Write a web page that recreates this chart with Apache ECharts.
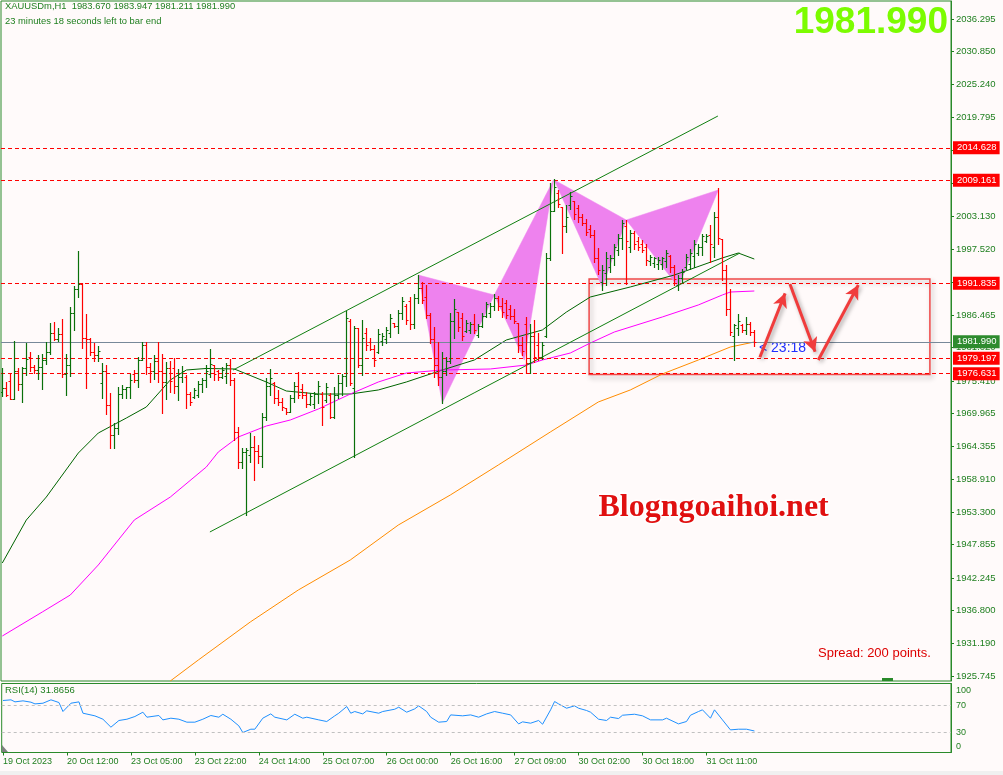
<!DOCTYPE html>
<html><head><meta charset="utf-8">
<script src="https://cdn.jsdelivr.net/npm/echarts/dist/echarts.min.js"></script>
<style>html,body{margin:0;padding:0;background:#fffafa;overflow:hidden}#c{width:1003px;height:775px}</style>
</head><body><div id="c"></div>
<script>
// ---------- DATA ----------
const xTickLabels = ['19 Oct 2023','20 Oct 12:00','23 Oct 05:00','23 Oct 22:00','24 Oct 14:00','25 Oct 07:00','26 Oct 00:00','26 Oct 16:00','27 Oct 09:00','30 Oct 02:00','30 Oct 18:00','31 Oct 11:00'];
const yTickLabels = [2036.295,2030.850,2025.240,2019.795,2014.185,2008.740,2003.130,1997.520,1992.075,1986.465,1981.020,1975.410,1969.965,1964.355,1958.910,1953.300,1947.855,1942.245,1936.800,1931.190,1925.745];
const rsiTickLabels = ['0','30','70','100'];

const open = [1973.5,1974.2,1975.4,1972.4,1977.1,1974.9,1977.6,1979.5,1977.7,1977.2,1977.7,1979.0,1980.3,1983.5,1982.5,1983.3,1976.6,1978.1,1986.9,1990.9,1991.7,1982.6,1982.4,1980.2,1979.8,1975.0,1977.0,1971.4,1966.3,1967.4,1973.2,1974.0,1974.3,1976.6,1975.6,1979.0,1981.4,1977.8,1977.0,1978.8,1977.0,1975.3,1977.6,1977.5,1974.6,1976.0,1976.0,1973.2,1972.7,1973.0,1974.9,1975.5,1976.6,1978.0,1977.0,1976.0,1976.2,1978.0,1975.6,1966.8,1961.8,1963.4,1963.0,1964.3,1963.6,1962.8,1969.3,1974.6,1975.0,1972.5,1971.8,1970.8,1970.2,1972.5,1974.5,1974.0,1973.0,1971.6,1971.6,1973.2,1973.2,1972.2,1973.0,1969.3,1973.0,1975.1,1976.3,1985.5,1974.2,1984.3,1978.1,1983.5,1981.9,1980.8,1980.3,1982.2,1982.5,1983.5,1985.2,1984.6,1986.8,1988.0,1988.9,1985.0,1989.4,1991.0,1989.5,1986.5,1982.5,1978.0,1976.0,1977.0,1978.8,1985.5,1987.0,1986.0,1983.8,1984.0,1985.0,1983.2,1984.6,1986.4,1986.8,1988.0,1989.3,1988.0,1988.5,1987.5,1986.3,1985.1,1981.5,1985.0,1978.5,1983.0,1981.5,1979.5,1983.0,1996.0,2004.0,2007.0,2004.7,2001.5,2005.0,2005.7,2004.5,2003.0,2002.0,2001.0,2000.0,1996.0,1992.0,1993.5,1994.5,1996.0,1997.5,1999.5,2001.5,1998.0,2000.3,1999.0,1998.5,1998.0,1995.5,1995.3,1995.0,1995.0,1995.5,1996.5,1994.5,1991.5,1992.8,1994.5,1995.0,1996.5,1997.0,1998.0,1999.0,2000.0,1998.0,2003.0,1999.3,1994.0,1987.5,1983.0,1984.3,1984.8,1984.0,1985.0,1983.67];
const high = [1977.5,1975.3,1976.5,1982.1,1977.5,1977.8,1981.8,1980.3,1978.0,1979.8,1979.9,1982.0,1985.2,1985.4,1984.3,1985.8,1980.0,1987.8,1991.3,1997.2,1991.8,1986.7,1982.6,1981.8,1981.3,1978.4,1978.1,1973.3,1968.3,1974.3,1974.7,1974.4,1976.5,1977.3,1979.5,1982.0,1982.0,1978.4,1979.8,1981.9,1979.9,1978.6,1978.8,1979.2,1977.4,1977.9,1976.4,1973.5,1974.2,1975.4,1975.9,1978.1,1980.8,1978.1,1977.2,1977.7,1978.4,1979.1,1975.9,1967.7,1964.1,1964.1,1966.6,1966.1,1964.6,1970.0,1975.9,1977.4,1975.2,1973.9,1972.5,1970.8,1973.0,1975.2,1976.9,1974.9,1973.5,1973.4,1973.5,1975.4,1973.5,1975.1,1973.4,1974.4,1976.4,1976.6,1987.2,1985.8,1984.6,1984.3,1985.7,1984.3,1982.6,1981.4,1984.1,1983.5,1984.5,1986.7,1985.2,1987.3,1989.5,1988.4,1989.5,1990.0,1993.3,1992.0,1991.5,1986.8,1984.5,1982.0,1980.3,1979.4,1986.8,1989.2,1987.0,1986.8,1985.7,1985.3,1986.7,1985.0,1986.8,1988.7,1988.5,1990.0,1989.7,1989.4,1989.0,1988.2,1987.5,1985.1,1982.8,1986.2,1985.0,1985.7,1983.5,1982.0,1996.9,2008.7,2009.4,2007.5,2004.7,2005.0,2007.2,2005.7,2005.0,2003.5,2002.7,2001.6,2000.8,1997.8,1994.9,1997.1,1996.6,1998.4,2000.1,2002.5,2002.5,2000.8,2000.6,1999.6,1999.1,1998.4,1996.6,1996.3,1996.3,1996.3,1997.4,1996.6,1994.9,1993.2,1994.2,1996.8,1997.6,1999.1,1998.4,2000.1,2000.1,2001.6,2003.8,2007.9,1999.3,1994.9,1990.9,1985.0,1986.7,1985.0,1986.2,1985.3,1983.947];
const low = [1972.9,1972.8,1972.3,1972.3,1973.9,1971.8,1976.4,1977.0,1976.7,1975.7,1974.0,1978.2,1980.0,1982.3,1982.1,1976.1,1973.0,1976.2,1984.0,1989.6,1980.9,1974.2,1979.8,1978.8,1978.8,1972.6,1969.8,1964.1,1964.2,1966.4,1972.5,1972.6,1972.6,1975.3,1974.3,1978.9,1976.5,1975.2,1975.8,1975.3,1970.0,1972.4,1973.6,1973.4,1972.2,1975.3,1970.9,1971.3,1972.5,1972.7,1973.5,1974.4,1976.1,1975.6,1975.6,1975.9,1975.1,1974.7,1965.5,1960.8,1960.8,1952.85,1961.8,1958.7,1961.6,1960.9,1968.8,1973.0,1971.7,1971.3,1970.5,1969.8,1970.2,1971.8,1972.5,1972.5,1971.0,1971.3,1970.8,1971.7,1968.0,1971.9,1969.2,1969.2,1972.5,1973.0,1974.6,1974.7,1962.6,1977.7,1976.4,1980.6,1980.6,1977.9,1980.1,1981.5,1981.8,1982.8,1984.5,1983.5,1985.8,1985.0,1984.1,1984.3,1988.5,1988.5,1986.0,1981.8,1976.1,1974.7,1971.7,1976.4,1978.5,1982.6,1983.8,1982.3,1983.6,1983.5,1983.5,1982.8,1984.5,1986.2,1986.2,1987.3,1987.3,1986.2,1986.0,1985.8,1985.1,1980.3,1979.8,1976.7,1976.7,1978.6,1978.9,1979.1,1982.8,1995.8,2004.0,2004.7,1996.9,2000.5,2004.3,2002.6,2002.1,2001.6,2000.0,1999.6,1995.4,1993.4,1990.7,1991.5,1993.7,1994.9,1996.6,1997.6,1991.7,1997.1,1997.6,1997.4,1997.1,1994.9,1994.9,1994.6,1994.2,1994.2,1994.6,1993.7,1991.5,1990.7,1992.0,1994.2,1994.2,1994.6,1996.6,1996.6,1998.8,1995.4,1996.3,1998.4,1992.4,1986.5,1983.1,1978.9,1983.1,1983.6,1983.3,1983.1,1981.211];
const close = [1974.2,1973.0,1972.4,1977.1,1974.9,1977.6,1979.1,1977.7,1977.2,1977.7,1979.0,1980.3,1983.5,1982.5,1983.3,1976.6,1978.1,1986.9,1990.9,1991.7,1982.6,1982.4,1980.2,1979.8,1980.4,1977.0,1971.4,1966.3,1967.4,1973.2,1974.0,1974.3,1975.6,1975.6,1979.0,1981.4,1977.8,1977.0,1978.8,1977.0,1975.3,1977.6,1975.4,1974.6,1976.0,1977.0,1973.2,1971.8,1973.9,1974.9,1975.5,1977.0,1978.2,1976.6,1976.0,1977.3,1978.0,1975.6,1966.8,1961.8,1963.4,1963.7,1964.3,1963.6,1962.8,1969.3,1974.6,1975.9,1972.5,1971.8,1971.0,1970.2,1972.5,1974.5,1973.0,1973.0,1971.6,1972.9,1973.2,1974.6,1971.0,1974.4,1969.3,1973.0,1975.1,1976.3,1986.0,1975.0,1984.3,1978.1,1982.6,1981.4,1980.8,1978.9,1983.3,1983.0,1984.0,1986.0,1984.6,1986.8,1988.9,1985.6,1985.0,1989.4,1991.0,1989.0,1986.5,1982.5,1978.0,1976.0,1977.0,1978.8,1985.5,1987.5,1984.5,1983.0,1985.2,1985.0,1984.0,1984.6,1986.4,1988.3,1988.0,1989.3,1988.0,1987.0,1986.5,1986.3,1985.5,1981.5,1980.5,1978.5,1983.0,1979.5,1979.5,1981.5,1996.0,2004.0,2008.0,2005.2,2001.5,2003.0,2006.5,2003.5,2003.0,2002.0,2000.5,2000.0,1996.0,1994.0,1994.0,1996.0,1996.0,1998.0,1999.5,2002.0,1999.0,2000.3,1998.5,1998.0,1997.5,1995.8,1996.3,1996.0,1995.8,1996.0,1997.0,1994.5,1992.5,1992.8,1993.8,1996.3,1997.0,1998.5,1998.0,1999.8,1999.8,1998.5,2003.0,1999.5,1994.0,1987.5,1983.6,1984.8,1985.5,1984.0,1985.0,1983.7,1981.99];

// moving averages: [bar, price]
const maGreen = [[0,1944.77],[6,1952.0],[11,1955.87],[19,1963.27],[24,1966.64],[31,1969.16],[36,1971.02],[42,1975.56],[46,1977.24],[51,1977.5],[58,1977.41],[66,1975.22],[71,1973.71],[79,1973.2],[87,1973.2],[94,1973.88],[101,1975.22],[110,1977.24],[118,1978.92],[126,1982.29],[135,1983.97],[141,1986.98],[147,1989.52],[157,1991.21],[168,1993.22],[180,1996.09],[184,1996.92],[188,1995.91]];
const maMagenta = [[0,1932.49],[10,1936.53],[17,1939.39],[24,1944.44],[33,1952.01],[42,1955.87],[51,1960.92],[54,1963.45],[59,1965.97],[66,1967.82],[72,1968.83],[79,1970.68],[87,1973.2],[94,1975.22],[101,1976.73],[110,1977.24],[122,1977.41],[131,1978.08],[135,1978.92],[142,1980.1],[147,1981.78],[153,1983.63],[165,1986.16],[174,1988.18],[180,1989.86],[182,1990.36],[188,1990.53]];
const maOrange = [[42,1924.92],[49,1928.45],[62,1934.85],[74,1940.23],[87,1945.28],[99,1951.16],[112,1956.21],[124,1961.26],[137,1966.81],[149,1971.86],[157,1973.88],[165,1976.57],[174,1978.92],[182,1981.11],[188,1981.95]];
const rsi = [[0,77.0],[2,78.0],[3,75.0],[5,76.5],[7,74.5],[8,72.0],[10,73.0],[12,78.0],[14,74.0],[15,60.7],[17,73.0],[19,75.0],[20,58.2],[23,54.3],[25,49.3],[27,37.5],[29,47.4],[31,49.3],[33,53.3],[35,59.7],[36,52.3],[39,54.8],[40,48.3],[42,50.8],[44,49.3],[46,44.9],[48,44.9],[50,49.3],[52,54.8],[54,52.3],[55,56.7],[57,49.3],[59,39.5],[60,29.6],[62,34.5],[63,34.5],[65,50.8],[67,57.2],[68,52.3],[71,48.3],[73,56.7],[75,50.8],[76,52.3],[79,48.3],[81,45.9],[83,54.3],[84,58.2],[86,68.1],[87,58.2],[88,60.7],[90,57.2],[91,61.7],[94,58.2],[95,60.7],[98,64.1],[99,67.1],[101,59.7],[103,64.6],[104,69.1],[106,60.7],[107,52.3],[109,44.9],[111,45.9],[112,55.7],[115,54.3],[117,55.7],[119,52.3],[121,57.2],[123,60.7],[125,58.2],[127,55.7],[129,42.4],[130,45.4],[132,43.4],[134,47.4],[135,41.9],[137,63.2],[138,75.5],[139,72.0],[141,65.6],[143,69.1],[144,65.6],[146,62.2],[147,59.7],[149,49.3],[151,47.4],[152,52.3],[154,50.3],[155,55.2],[158,56.7],[160,54.3],[162,48.3],[165,48.3],[166,50.8],[169,42.4],[171,45.9],[172,55.2],[174,60.7],[175,63.2],[177,50.8],[178,63.2],[180,48.3],[182,33.5],[184,34.5],[186,34.5],[188,31.8656]];

const levels = [2014.628, 2009.161, 1991.835, 1979.197, 1976.631];
const bidPrice = 1981.990;
const channelUpper = [[57.7,1977.24],[178.9,2019.97]];
const channelLower = [[51.9,1949.99],[184.4,1996.92]];
const longTrend = [[-0.33,1936.69],[222.7,1924.92]];
const patternTriangles = [
  [[104,1993.22],[110,1971.69],[123,1989.86]],
  [[123,1989.86],[130.5,1978.9],[137.8,2009.21]],
  [[138,2009.21],[150,1991.21],[156,2002.48]],
  [[156,2002.48],[169,1991.21],[179,2007.53]]
];
const zoneBox = [[146.7,1992.55],[231.9,1976.5]];
const arrows = [
  [[189.4,1979.38],[195.7,1990.14]],
  [[196.9,1991.71],[203.2,1980.32]],
  [[204,1978.92],[214,1991.54]]
];

// ---------- CHART ----------
const FG = '#1f7f1f';
const FONT = "'Liberation Sans', Arial, sans-serif";
const chart = echarts.init(document.getElementById('c'), null, {renderer:'canvas'});
const bars = high.map((h,i)=>[i, open[i], h, low[i], close[i]]);
const xMin = -0.325, xMax = 237.175;
const xTickVals = xTickLabels.map((_,k)=>k*16);
const rsiTickPos = [8.7, 30, 70, 91.2];

function ohlcItem(params, api){
  const i = api.value(0), o = api.value(1), h = api.value(2), l = api.value(3), c = api.value(4);
  const pH = api.coord([i,h]), pL = api.coord([i,l]), pO = api.coord([i,o]), pC = api.coord([i,c]);
  const x = Math.round(pH[0]) + 0.5;
  const col = c >= o ? '#0a700a' : '#ff0000';
  const yo = Math.round(pO[1]) + 0.5, yc = Math.round(pC[1]) + 0.5;
  return {type:'group', children:[
    {type:'line', shape:{x1:x, y1:Math.round(pH[1]), x2:x, y2:Math.round(pL[1])+1}, style:{stroke:col, lineWidth:1.2}},
    {type:'line', shape:{x1:x-2, y1:yo, x2:x, y2:yo}, style:{stroke:col, lineWidth:1}},
    {type:'line', shape:{x1:x, y1:yc, x2:x+2, y2:yc}, style:{stroke:col, lineWidth:1}}
  ]};
}
function triItem(params, api){
  const pts = [0,1,2].map(k=>api.coord([api.value(2*k), api.value(2*k+1)]));
  return {type:'polygon', shape:{points:pts}, style:{fill:'#ee82ee', stroke:'#ee82ee', lineWidth:0.5}};
}

const levelLines = levels.map(v=>({
  yAxis:v,
  lineStyle:{color:'#ff0000', type:[4,3], width:1},
  label:{show:true, position:'end', distance:2, formatter:()=>v.toFixed(3), backgroundColor:'#ff0000', color:'#ffffff', fontSize:9.5, fontFamily:FONT, padding:[2,3,1,4]}
}));
levelLines.push({
  yAxis:bidPrice,
  lineStyle:{color:'#778899', type:'solid', width:1},
  label:{show:true, position:'end', distance:2, formatter:()=>bidPrice.toFixed(3), backgroundColor:'#2e8b2e', color:'#ffffff', fontSize:9.5, fontFamily:FONT, padding:[2,3,1,4]}
});
const seg = (a, b, style)=>[{coord:a, lineStyle:style}, {coord:b}];
const greenLine = {color:'#108010', width:1, type:'solid'};

const option = {
  animation:false,
  backgroundColor:'#fffafa',
  grid:[
    {left:1, top:1, width:950, height:680, show:true, borderColor:'#2a8a2a', borderWidth:1, backgroundColor:'transparent'},
    {left:1, top:683.5, width:950, height:69, show:true, borderColor:'#2a8a2a', borderWidth:1, backgroundColor:'transparent'}
  ],
  xAxis:[
    {type:'value', gridIndex:0, min:xMin, max:xMax, axisLine:{show:false, onZero:false}, axisTick:{show:false}, axisLabel:{show:false}, splitLine:{show:false}},
    {type:'value', gridIndex:1, min:xMin, max:xMax, axisLine:{show:false, onZero:false}, splitLine:{show:false},
     axisTick:{show:true, customValues:xTickVals, length:3, lineStyle:{color:FG}},
     axisLabel:{show:true, customValues:xTickVals, formatter:v=>xTickLabels[Math.round(v/16)], align:'left', color:FG, fontSize:9, fontFamily:FONT, margin:5}}
  ],
  yAxis:[
    {type:'value', gridIndex:0, position:'right', min:1924.92, max:2039.32, splitLine:{show:false},
     axisLine:{show:true, onZero:false, lineStyle:{color:'#2a8a2a'}},
     axisTick:{show:true, customValues:yTickLabels, length:3, lineStyle:{color:FG}},
     axisLabel:{show:true, customValues:yTickLabels, formatter:v=>v.toFixed(3), color:FG, fontSize:9.5, fontFamily:FONT, margin:5}},
    {type:'value', gridIndex:1, position:'right', min:0, max:102.2, splitLine:{show:false},
     axisLine:{show:true, onZero:false, lineStyle:{color:'#2a8a2a'}},
     axisTick:{show:false},
     axisLabel:{show:true, customValues:rsiTickPos, formatter:v=>rsiTickLabels[rsiTickPos.indexOf(v)], color:FG, fontSize:9, fontFamily:FONT, margin:5}}
  ],
  series:[
    {type:'custom', name:'patterns', xAxisIndex:0, yAxisIndex:0, z:1, clip:true, renderItem:triItem,
     encode:{x:[0,2,4], y:[1,3,5]},
     data:patternTriangles.map(t=>[t[0][0],t[0][1],t[1][0],t[1][1],t[2][0],t[2][1]])},
    {type:'line', name:'levels', xAxisIndex:0, yAxisIndex:0, z:2, data:[], silent:true,
     markLine:{silent:true, symbol:['none','none'], animation:false, data:levelLines},
     markArea:{silent:true, data:[[{coord:zoneBox[0]},{coord:zoneBox[1]}]],
       itemStyle:{color:'rgba(0,0,0,0)', borderColor:'#f04848', borderWidth:1.5, shadowBlur:5, shadowColor:'rgba(0,0,0,0.3)', shadowOffsetX:2, shadowOffsetY:3}}},
    {type:'line', name:'MA green', xAxisIndex:0, yAxisIndex:0, z:3, data:maGreen, showSymbol:false, lineStyle:{color:'#006400', width:1}, silent:true},
    {type:'line', name:'MA magenta', xAxisIndex:0, yAxisIndex:0, z:3, data:maMagenta, showSymbol:false, lineStyle:{color:'#ff00ff', width:1}, silent:true},
    {type:'line', name:'MA orange', xAxisIndex:0, yAxisIndex:0, z:3, data:maOrange, showSymbol:false, lineStyle:{color:'#ff8c00', width:1}, silent:true},
    {type:'line', name:'trend', xAxisIndex:0, yAxisIndex:0, z:4, data:[], silent:true,
     markLine:{silent:true, symbol:['none','none'], label:{show:false}, animation:false,
       data:[seg(channelUpper[0],channelUpper[1],greenLine), seg(channelLower[0],channelLower[1],greenLine), seg(longTrend[0],longTrend[1],greenLine)]}},
    {type:'custom', name:'bars', xAxisIndex:0, yAxisIndex:0, z:5, clip:true, renderItem:ohlcItem, encode:{x:0, y:[1,2,3,4]}, data:bars},
    {type:'line', name:'arrows', xAxisIndex:0, yAxisIndex:0, z:6, data:[], silent:true,
     markLine:{silent:true, symbol:['none','arrow'], symbolSize:[11,14], label:{show:false}, animation:false,
       lineStyle:{color:'#f03c3c', width:3, type:'solid', shadowBlur:4, shadowColor:'rgba(0,0,0,0.35)', shadowOffsetX:2, shadowOffsetY:2},
       itemStyle:{color:'#f03c3c'},
       data:arrows.map(a=>[{coord:a[0]},{coord:a[1]}])}},
    {type:'line', name:'RSI', xAxisIndex:1, yAxisIndex:1, z:3, data:rsi, showSymbol:false, lineStyle:{color:'#1e90ff', width:1}, silent:true,
     markLine:{silent:true, symbol:['none','none'], label:{show:false}, animation:false,
       lineStyle:{color:'#c0c0c0', type:[3,3], width:1}, data:[{yAxis:30},{yAxis:70}]}}
  ],
  graphic:[
    {type:'text', left:5, top:2, style:{text:'XAUUSDm,H1  1983.670 1983.947 1981.211 1981.990', fill:FG, font:'9.4px '+FONT}},
    {type:'text', left:5, top:17, style:{text:'23 minutes 18 seconds left to bar end', fill:FG, font:'9.4px '+FONT}},
    {type:'text', right:55, top:4, style:{text:'1981.990', fill:'#7cfc00', font:'bold 37px '+FONT, align:'right'}},
    {type:'text', left:597, top:490, style:{text:'Blogngoaihoi.net', fill:'#e01010', font:"bold 32px 'Liberation Serif', 'Times New Roman', serif", stroke:'#ffffff', lineWidth:3, shadowColor:'rgba(0,0,0,0.35)', shadowBlur:3, shadowOffsetX:1, shadowOffsetY:1}},
    {type:'text', left:818, top:647, style:{text:'Spread: 200 points.', fill:'#dd0000', font:'13px '+FONT}},
    {type:'text', left:759, top:341, style:{text:'< 23:18', fill:'#2030ff', font:'14px '+FONT}},
    {type:'text', left:5, top:685, style:{text:'RSI(14) 31.8656', fill:FG, font:'9.5px '+FONT}},
    {type:'rect', shape:{x:882, y:678, width:11, height:3}, style:{fill:'#2a8a2a'}},
    {type:'polygon', shape:{points:[[2,745],[2,752],[8,752]]}, style:{fill:'#808080'}},
    {type:'rect', shape:{x:0, y:771, width:1003, height:4}, style:{fill:'#f0f0f0'}}
  ]
};
chart.setOption(option);
</script></body></html>
